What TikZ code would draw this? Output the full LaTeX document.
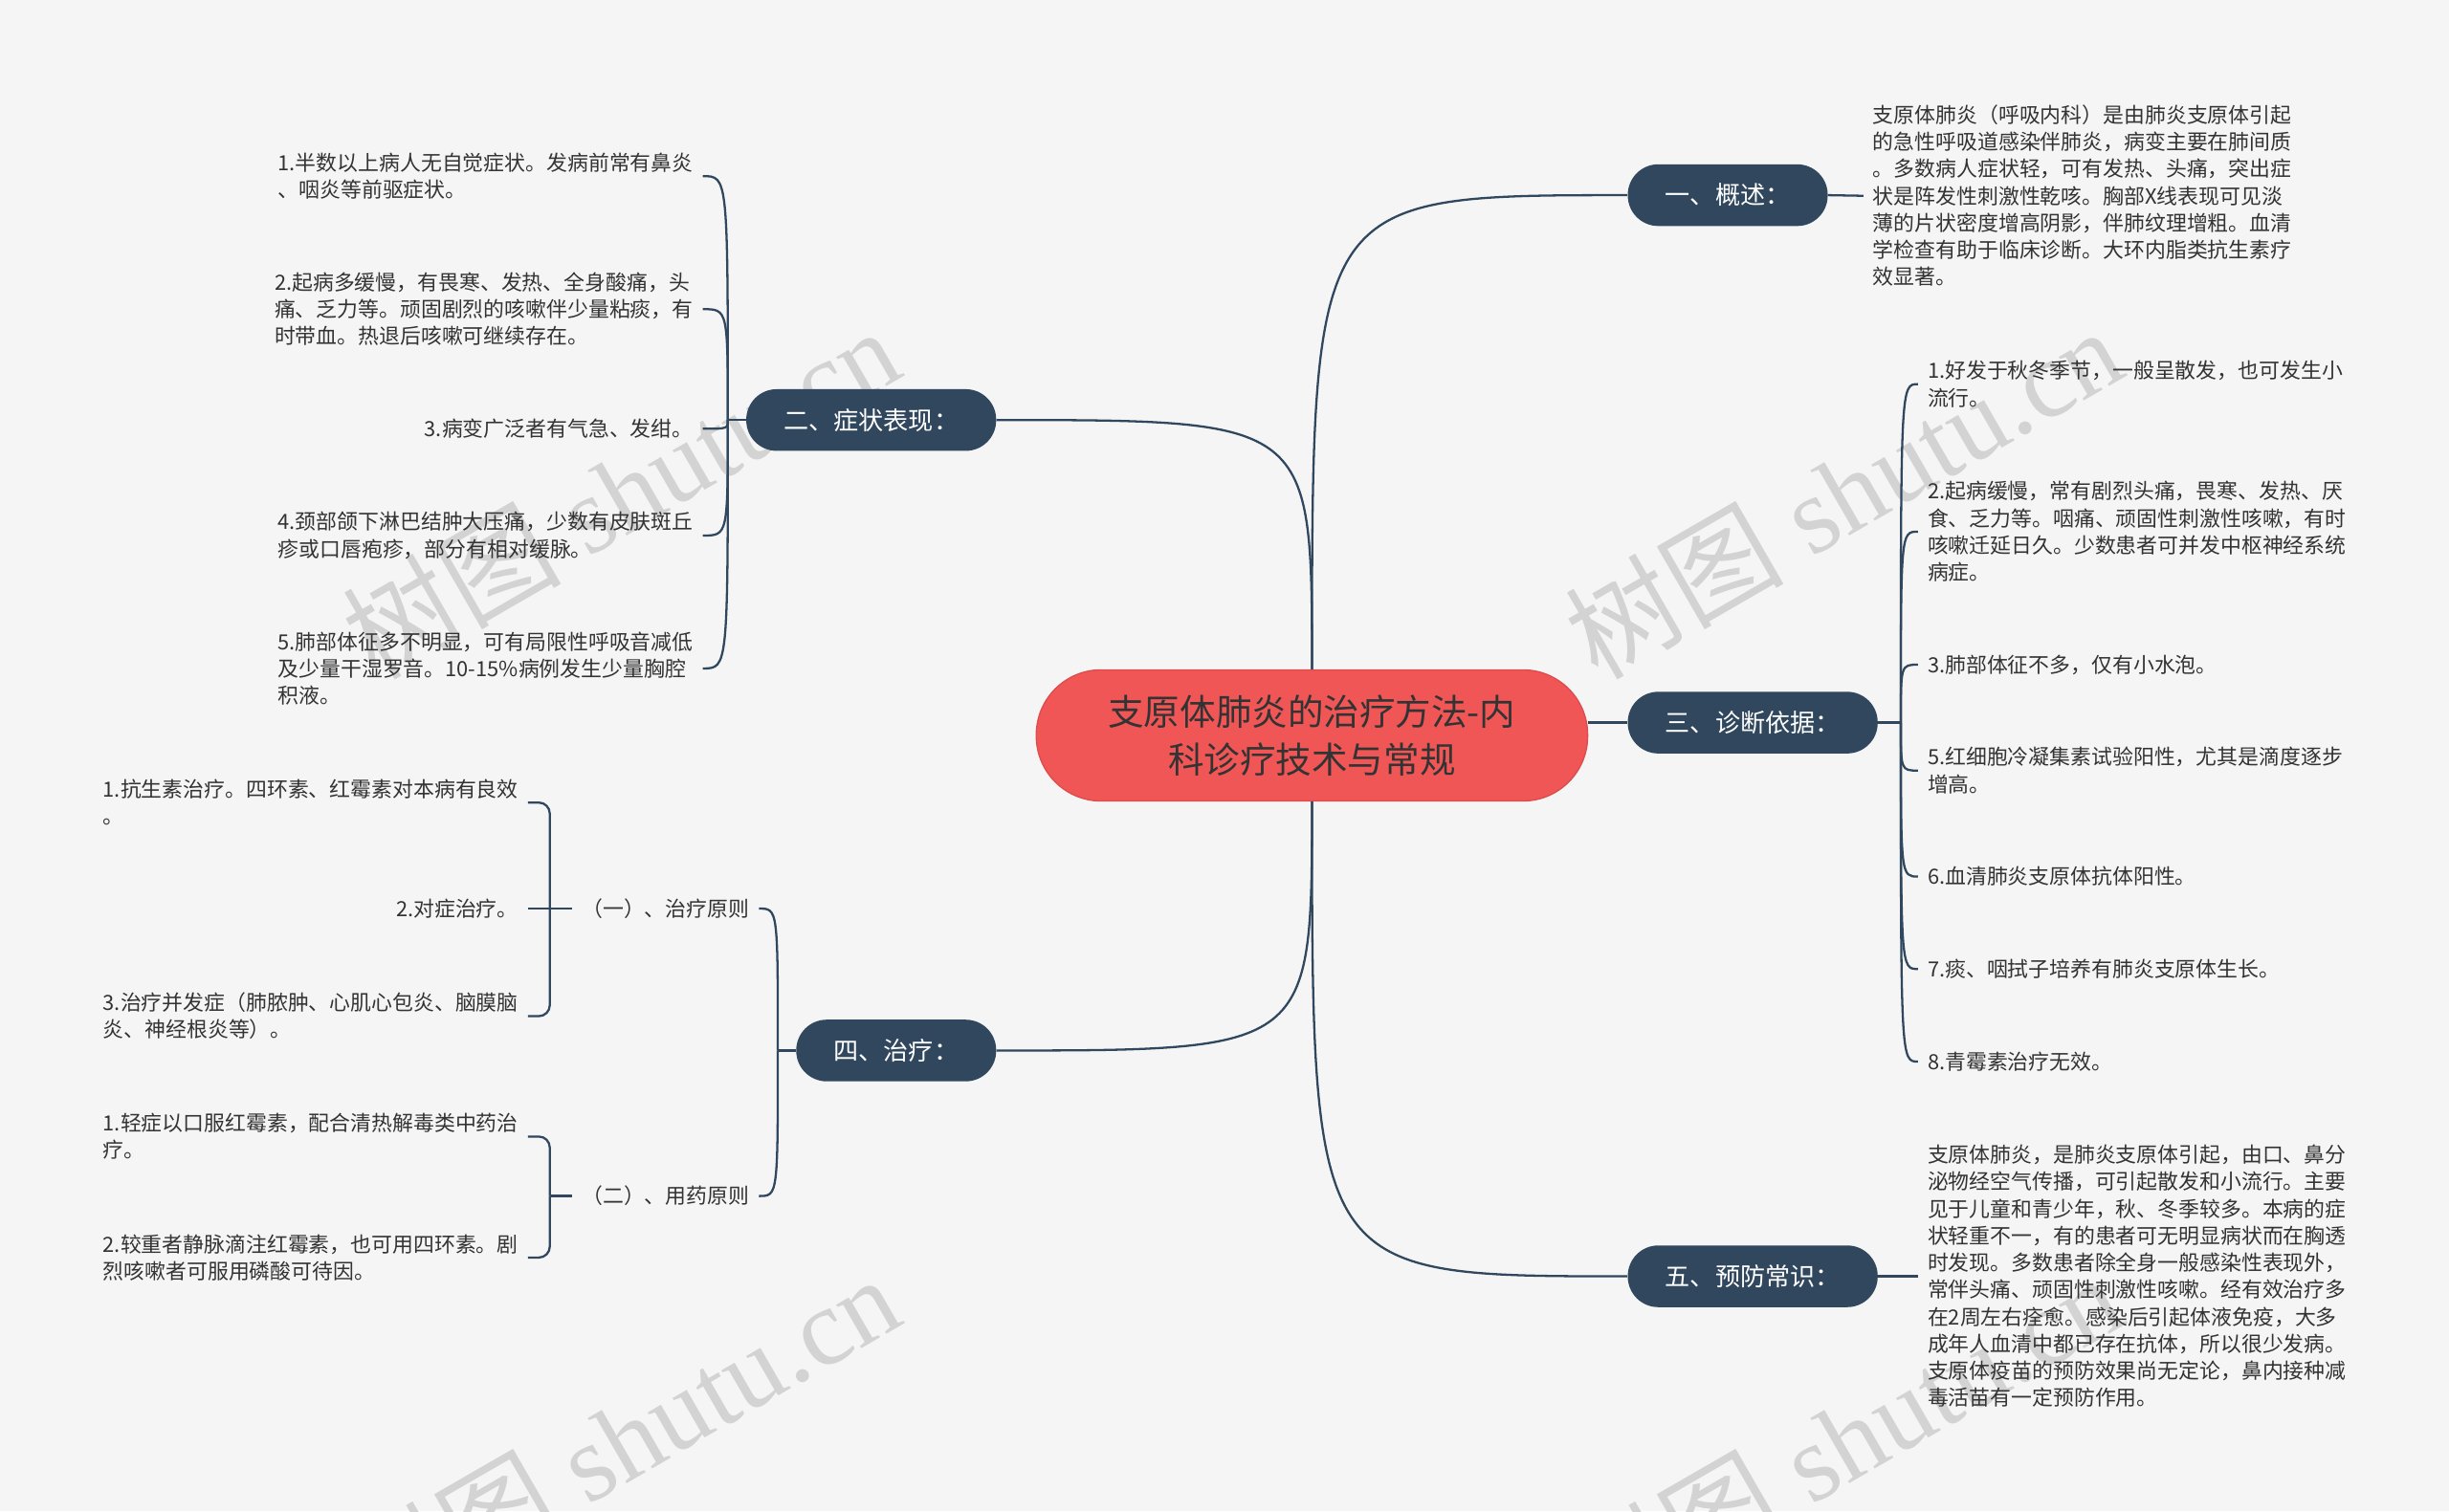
\documentclass[tikz,border=0pt]{standalone}
\usepackage{fontspec}
\newfontfamily\cjk{Noto Sans CJK SC}
\newfontfamily\wmserif{Liberation Serif}
\usetikzlibrary{calc}

\definecolor{bgcol}{HTML}{F5F5F5}
\definecolor{navy}{HTML}{30475E}
\definecolor{rootred}{HTML}{F05656}
\definecolor{rootedge}{HTML}{DE4B4B}
\definecolor{txtcol}{HTML}{333333}
\definecolor{wmcol}{HTML}{D3D3D3}

\begin{document}
\begin{tikzpicture}[x=1pt, y=-1pt,
	root/.style={draw=rootedge, line width=0.8pt, fill=rootred, rounded corners=41.5pt,
		minimum width=353pt, minimum height=84pt, align=center, text=txtcol,
		font=\cjk\fontsize{23}{30.6}\selectfont},
	branch/.style={fill=navy, rounded corners=19.5pt, minimum height=39.5pt,
		inner xsep=24pt, inner ysep=0pt, text=white, font=\cjk\fontsize{16}{19}\selectfont},
	leaf/.style={align=left, inner xsep=6pt, inner ysep=2pt, text=txtcol,
		font=\cjk\fontsize{13.4}{17.3}\selectfont},
	link/.style={draw=navy, line width=1.4pt},
	wmark/.style={text=wmcol, rotate=30, inner sep=0pt,
		font=\wmserif\fontsize{70}{70}\selectfont}]
	
	% background
	\fill[bgcol] (0,0) rectangle (1568,968);
	\useasboundingbox (0,0) rectangle (1568,968);
	
	% watermarks
	\node[wmark] (wm1) at (397,315) {{\cjk 树图} shutu.cn};
	\node[wmark] (wm2) at (1180,315) {{\cjk 树图} shutu.cn};
	\node[wmark] (wm3) at (397,922) {{\cjk 树图} shutu.cn};
	\node[wmark] (wm4) at (1180,922) {{\cjk 树图} shutu.cn};
	
	% root
	\node[root] (root) at (840,471) {支原体肺炎的治疗方法-内\\科诊疗技术与常规};
	
	% branches
	\node[branch, anchor=west] (b1) at (1042,125) {一、概述：};
	\node[branch, anchor=east] (b2) at (638,269) {二、症状表现：};
	\node[branch, anchor=west] (b3) at (1042,462.8) {三、诊断依据：};
	\node[branch, anchor=east] (b4) at (638,672.8) {四、治疗：};
	\node[branch, anchor=west] (b5) at (1042,817.4) {五、预防常识：};
	
	\draw[link] (root.north) .. controls (root.north |- b1.west) .. (b1.west);
	\draw[link] (root.north) .. controls (root.north |- b2.east) .. (b2.east);
	\draw[link] (root.east |- b3.west) -- (b3.west);
	\draw[link] (root.south) .. controls (root.south |- b4.east) .. (b4.east);
	\draw[link] (root.south) .. controls (root.south |- b5.west) .. (b5.west);
	
	% overview text
	\node[leaf, anchor=west] (over) at (1193,125.4) {支原体肺炎（呼吸内科）是由肺炎支原体引起\\的急性呼吸道感染伴肺炎，病变主要在肺间质\\。多数病人症状轻，可有发热、头痛，突出症\\状是阵发性刺激性乾咳。胸部X线表现可见淡\\薄的片状密度增高阴影，伴肺纹理增粗。血清\\学检查有助于临床诊断。大环内脂类抗生素疗\\效显著。};
	\draw[link] (b1.east) -- (over.west);
	
	% symptoms
	\coordinate (j2) at (466,269);
	\node[leaf, anchor=east] (sym1) at (450,112.8) {1.半数以上病人无自觉症状。发病前常有鼻炎\\、咽炎等前驱症状。};
	\node[leaf, anchor=east] (sym2) at (450,198) {2.起病多缓慢，有畏寒、发热、全身酸痛，头\\痛、乏力等。顽固剧烈的咳嗽伴少量粘痰，有\\时带血。热退后咳嗽可继续存在。};
	\node[leaf, anchor=east] (sym3) at (450,274.6) {3.病变广泛者有气急、发绀。};
	\node[leaf, anchor=east] (sym4) at (450,343) {4.颈部颌下淋巴结肿大压痛，少数有皮肤斑丘\\疹或口唇疱疹，部分有相对缓脉。};
	\node[leaf, anchor=east] (sym5) at (450,428.1) {5.肺部体征多不明显，可有局限性呼吸音减低\\及少量干湿罗音。10-15\%病例发生少量胸腔\\积液。};
	\draw[link] (b2.west) -- (j2);
	\foreach \n in {sym1,sym2,sym3,sym4,sym5}
		\draw[link] (j2) .. controls (j2 |- \n.east) .. (\n.east);
	
	% diagnosis
	\coordinate (j3) at (1217,462.8);
	\node[leaf, anchor=west] (dia1) at (1228,246) {1.好发于秋冬季节，一般呈散发，也可发生小\\流行。};
	\node[leaf, anchor=west] (dia2) at (1228,340.5) {2.起病缓慢，常有剧烈头痛，畏寒、发热、厌\\食、乏力等。咽痛、顽固性刺激性咳嗽，有时\\咳嗽迁延日久。少数患者可并发中枢神经系统\\病症。};
	\node[leaf, anchor=west] (dia3) at (1228,425.7) {3.肺部体征不多，仅有小水泡。};
	\node[leaf, anchor=west] (dia5) at (1228,493.5) {5.红细胞冷凝集素试验阳性，尤其是滴度逐步\\增高。};
	\node[leaf, anchor=west] (dia6) at (1228,561.4) {6.血清肺炎支原体抗体阳性。};
	\node[leaf, anchor=west] (dia7) at (1228,620.6) {7.痰、咽拭子培养有肺炎支原体生长。};
	\node[leaf, anchor=west] (dia8) at (1228,679.9) {8.青霉素治疗无效。};
	\draw[link] (b3.east) -- (j3);
	\foreach \n in {dia1,dia2,dia3,dia5,dia6,dia7,dia8}
		\draw[link] (j3) .. controls (j3 |- \n.west) .. (\n.west);
	
	% treatment
	\coordinate (j4) at (498,672.8);
	\node[leaf, anchor=east] (sub1) at (486,581.9) {（一）、治疗原则};
	\node[leaf, anchor=east] (sub2) at (486,766) {（二）、用药原则};
	\draw[link] (b4.west) -- (j4);
	\foreach \n in {sub1,sub2}
		\draw[link] (j4) .. controls (j4 |- \n.east) .. (\n.east);
	
	% principles
	\coordinate (j41) at (352,581.9);
	\node[leaf, anchor=east] (tp1) at (338,514) {1.抗生素治疗。四环素、红霉素对本病有良效\\。};
	\node[leaf, anchor=east] (tp2) at (338,581.9) {2.对症治疗。};
	\node[leaf, anchor=east] (tp3) at (338,650.8) {3.治疗并发症（肺脓肿、心肌心包炎、脑膜脑\\炎、神经根炎等）。};
	\draw[link] (sub1.west) -- (j41) -- (tp2.east);
	\draw[link, rounded corners=7pt] (j41) |- (tp1.east);
	\draw[link, rounded corners=7pt] (j41) |- (tp3.east);
	
	% drugs
	\coordinate (j42) at (352,766);
	\node[leaf, anchor=east] (md1) at (338,727.9) {1.轻症以口服红霉素，配合清热解毒类中药治\\疗。};
	\node[leaf, anchor=east] (md2) at (338,805.4) {2.较重者静脉滴注红霉素，也可用四环素。剧\\烈咳嗽者可服用磷酸可待因。};
	\draw[link] (sub2.west) -- (j42);
	\draw[link, rounded corners=7pt] (j42) |- (md1.east);
	\draw[link, rounded corners=7pt] (j42) |- (md2.east);
	
	% prevention text
	\node[leaf, anchor=west] (prev) at (1228,817.4) {支原体肺炎，是肺炎支原体引起，由口、鼻分\\泌物经空气传播，可引起散发和小流行。主要\\见于儿童和青少年，秋、冬季较多。本病的症\\状轻重不一，有的患者可无明显病状而在胸透\\时发现。多数患者除全身一般感染性表现外，\\常伴头痛、顽固性刺激性咳嗽。经有效治疗多\\在2周左右痊愈。感染后引起体液免疫，大多\\成年人血清中都已存在抗体，所以很少发病。\\支原体疫苗的预防效果尚无定论，鼻内接种减\\毒活苗有一定预防作用。};
	\draw[link] (b5.east) -- (prev.west);
\end{tikzpicture}
\end{document}
